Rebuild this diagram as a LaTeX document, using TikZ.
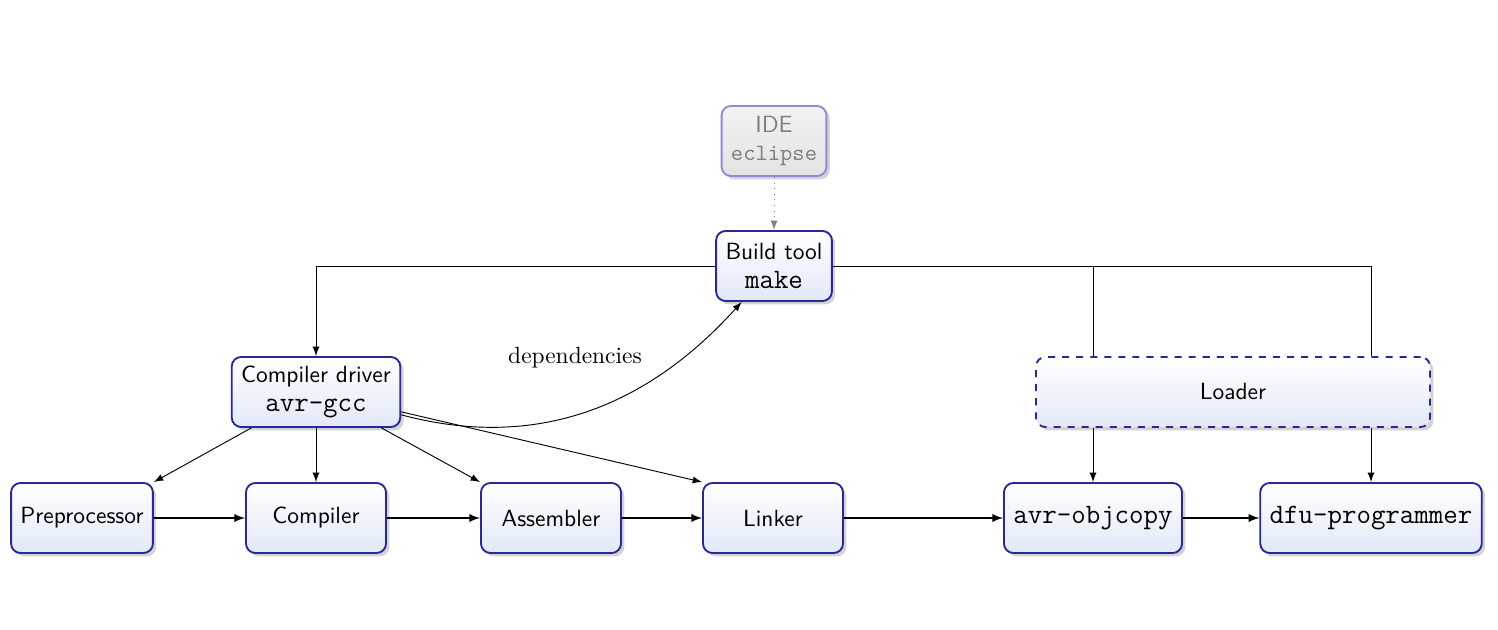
\documentclass[tikz,border=0pt]{standalone}
\usepackage{tikz}
\usetikzlibrary{shadows,arrows}

\definecolor{boxline}{RGB}{40,40,150}
\definecolor{boxfill}{RGB}{226,232,248}
\definecolor{ideline}{RGB}{140,140,210}

\begin{document}
\begin{tikzpicture}[x=0.015cm, y=-0.015cm, >=latex,
        box/.style = {shape=rectangle, rounded corners=4pt,
                      draw=boxline, thick, align=center,
                      font=\sffamily, inner xsep=4pt,
                      minimum height=1.05cm,
                      top color=white, bottom color=boxfill,
                      drop shadow={shadow xshift=.05cm, shadow yshift=-.05cm, opacity=.35}},
        stage/.style = {box, minimum width=2.1cm},
        idebox/.style = {box, draw=ideline, text=gray,
                         top color=gray!10, bottom color=gray!22},
        flow/.style = {->, semithick}]
    \useasboundingbox (0,0) rectangle (1498,630);

    \node[idebox] (ide) at (774,141) {IDE\\\texttt{eclipse}};
    \node[box] (make) at (774,266) {Build tool\\\texttt{\large make}};
    \node[box] (driver) at (316,392) {Compiler driver\\\texttt{\large avr-gcc}};
    \node[box, dashed, minimum width=5.91cm] (loader) at (1233,392) {Loader};

    \node[stage] (pre) at (82,518) {Preprocessor};
    \node[stage] (comp) at (316,518) {Compiler};
    \node[stage] (asm) at (551,518) {Assembler};
    \node[stage] (link) at (773,518) {Linker};
    \node[stage] (objcopy) at (1093,518) {\texttt{\large avr-objcopy}};
    \node[stage] (dfu) at (1371,518) {\texttt{\large dfu-programmer}};

    \node (dep) at (575,358) {dependencies};

    \draw[->, gray, dotted] (ide) -- (make);
    \draw[->] (make.west) -| (driver.north);
    \draw (make.east) -| (loader.north -| dfu);
    \draw (make.east -| objcopy) -- (loader.north -| objcopy);

    \draw[->] (driver) -- (pre.north east);
    \draw[->] (driver) -- (comp);
    \draw[->] (driver) -- (asm.north west);
    \draw[->] (driver) -- (link.north west);
    \draw[->] (driver) to[out=-15, in=-132] (make);

    \draw[->] (loader.south -| objcopy) -- (objcopy.north);
    \draw[->] (loader.south -| dfu) -- (dfu.north);

    \draw[flow] (pre) -- (comp);
    \draw[flow] (comp) -- (asm);
    \draw[flow] (asm) -- (link);
    \draw[flow] (link) -- (objcopy);
    \draw[flow] (objcopy) -- (dfu);
\end{tikzpicture}
\end{document}
